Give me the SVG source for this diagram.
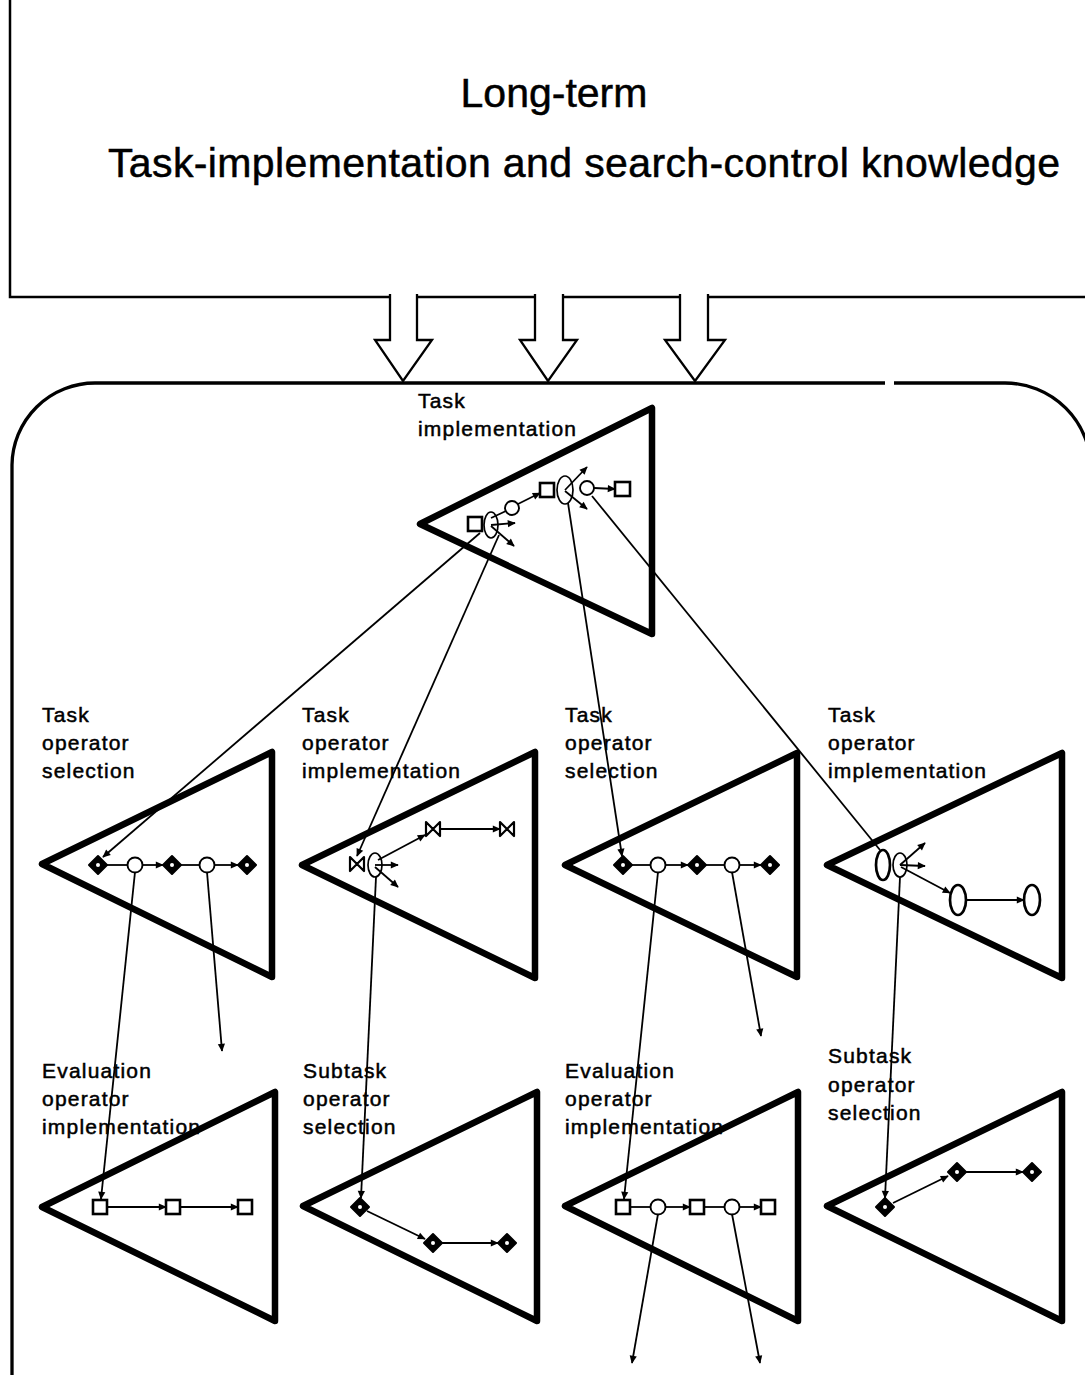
<svg xmlns="http://www.w3.org/2000/svg" xmlns:xlink="http://www.w3.org/1999/xlink" width="1085" height="1375" viewBox="0 0 1085 1375">
<style>
.big{font-family:"Liberation Sans",Arial,sans-serif;font-size:41px;fill:#000;stroke:#000;stroke-width:0.5}
.lbl{font-family:"Liberation Sans",Arial,sans-serif;font-size:21px;letter-spacing:1.2px;fill:#000;stroke:#000;stroke-width:0.5}
.tri{fill:none;stroke:#000;stroke-width:6.5;stroke-linejoin:round}
.ln{fill:none;stroke:#000;stroke-width:1.8}
.arr{fill:none;stroke:#000;stroke-width:1.8;marker-end:url(#ah)}
.sq{fill:#fff;stroke:#000;stroke-width:2.6}
.ci{fill:#fff;stroke:#000;stroke-width:1.9}
.el{fill:none;stroke:#000;stroke-width:1.7}
.elb{fill:#fff;stroke:#000;stroke-width:2.7}
.bt{fill:#fff;stroke:#000;stroke-width:2.2;stroke-linejoin:round}
.hollow{fill:#fff;stroke:#000;stroke-width:2.3;stroke-linejoin:miter}
</style>
<defs>
<marker id="ah" viewBox="0 0 10 10" refX="9" refY="5" markerWidth="10" markerHeight="8" markerUnits="userSpaceOnUse" orient="auto"><path d="M0,0.5 L10,5 L0,9.5 z" fill="#000"/></marker>
<g id="dia"><polygon points="-9,0 0,-9 9,0 0,9" fill="#000" stroke="#000" stroke-width="2" stroke-linejoin="round"/><circle r="2" fill="#fff"/></g>
<path id="bow" d="M-7,-7 L0,0 L-7,7 Z M7,-7 L0,0 L7,7 Z"/>
</defs>
<rect width="1085" height="1375" fill="#fff"/>

<g id="ltm">
<rect x="10" y="-5" width="1090" height="302" fill="#fff" stroke="#000" stroke-width="2.5"/>
<text class="big" x="554" y="107" text-anchor="middle">Long-term</text>
<text class="big" x="108" y="177" textLength="952" lengthAdjust="spacing">Task-implementation and search-control knowledge</text>
<polyline class="hollow" points="390,294 390,340 375,340 403,381 432,340 417,340 417,294"/>
<polyline class="hollow" points="535,294 535,340 520,340 548,381 577,340 563,340 563,294"/>
<polyline class="hollow" points="680,294 680,340 665,340 695,381 725,340 708,340 708,294"/>
</g>

<g id="workspace" fill="none" stroke="#000" stroke-width="3.3">
<path d="M12,1380 V465 A83,83 0 0 1 95,383 H885"/>
<path d="M894,383 H1005 A86,86 0 0 1 1091,469 V1380"/>
</g>

<g id="task-impl">
<text class="lbl" x="418" y="408">Task</text>
<text class="lbl" x="418" y="436">implementation</text>
<polygon class="tri" points="420,524 652,408 652,634"/>
<rect class="sq" x="468" y="517" width="14" height="14"/>
<ellipse class="el" cx="491" cy="525" rx="7" ry="13"/>
<line class="ln" x1="491" y1="518" x2="506" y2="511"/>
<circle class="ci" cx="512" cy="508" r="7"/>
<line class="arr" x1="491" y1="525" x2="515" y2="523"/>
<line class="arr" x1="491" y1="526" x2="514" y2="546"/>
<line class="arr" x1="518" y1="504" x2="540" y2="493"/>
<rect class="sq" x="540" y="483" width="14" height="14"/>
<ellipse class="el" cx="565" cy="490" rx="8" ry="14"/>
<circle class="ci" cx="587" cy="488" r="7"/>
<line class="arr" x1="565" y1="490" x2="587" y2="467"/>
<line class="arr" x1="565" y1="491" x2="587" y2="509"/>
<line class="arr" x1="594" y1="488" x2="615" y2="489"/>
<rect class="sq" x="615" y="482" width="15" height="14"/>
</g>

<g id="t1">
<text class="lbl" x="42" y="722">Task</text>
<text class="lbl" x="42" y="750">operator</text>
<text class="lbl" x="42" y="778">selection</text>
<polygon class="tri" points="42,864 272,752 272,977"/>
<line class="ln" x1="107" y1="865" x2="128" y2="865"/>
<line class="arr" x1="142" y1="865" x2="163" y2="865"/>
<line class="ln" x1="181" y1="865" x2="200" y2="865"/>
<line class="arr" x1="214" y1="865" x2="238" y2="865"/>
<use xlink:href="#dia" x="98" y="865"/>
<circle class="ci" cx="135" cy="865" r="7.5"/>
<use xlink:href="#dia" x="172" y="865"/>
<circle class="ci" cx="207" cy="865" r="7.5"/>
<use xlink:href="#dia" x="247" y="865"/>
</g>

<g id="t2">
<text class="lbl" x="302" y="722">Task</text>
<text class="lbl" x="302" y="750">operator</text>
<text class="lbl" x="302" y="778">implementation</text>
<polygon class="tri" points="302,865 535,752 535,978"/>
<use xlink:href="#bow" class="bt" x="357" y="864"/>
<ellipse class="el" cx="375" cy="865" rx="7" ry="12"/>
<line class="arr" x1="375" y1="865" x2="398" y2="865"/>
<line class="arr" x1="375" y1="867" x2="398" y2="887"/>
<line class="arr" x1="378" y1="860" x2="425" y2="835"/>
<use xlink:href="#bow" class="bt" x="433" y="829"/>
<line class="arr" x1="440" y1="829" x2="500" y2="829"/>
<use xlink:href="#bow" class="bt" x="507" y="829"/>
</g>

<g id="t3">
<text class="lbl" x="565" y="722">Task</text>
<text class="lbl" x="565" y="750">operator</text>
<text class="lbl" x="565" y="778">selection</text>
<polygon class="tri" points="565,865 797,753 797,977"/>
<line class="ln" x1="632" y1="865" x2="651" y2="865"/>
<line class="arr" x1="665" y1="865" x2="688" y2="865"/>
<line class="ln" x1="706" y1="865" x2="725" y2="865"/>
<line class="arr" x1="739" y1="865" x2="761" y2="865"/>
<use xlink:href="#dia" x="623" y="865"/>
<circle class="ci" cx="658" cy="865" r="7.5"/>
<use xlink:href="#dia" x="697" y="865"/>
<circle class="ci" cx="732" cy="865" r="7.5"/>
<use xlink:href="#dia" x="770" y="865"/>
</g>

<g id="t4">
<text class="lbl" x="828" y="722">Task</text>
<text class="lbl" x="828" y="750">operator</text>
<text class="lbl" x="828" y="778">implementation</text>
<polygon class="tri" points="827,865 1062,753 1062,978"/>
<ellipse class="elb" cx="883" cy="865" rx="7" ry="15"/>
<ellipse class="el" cx="900" cy="865" rx="7" ry="12"/>
<line class="arr" x1="900" y1="865" x2="925" y2="843"/>
<line class="arr" x1="900" y1="865" x2="925" y2="866"/>
<line class="arr" x1="901" y1="867" x2="950" y2="893"/>
<ellipse class="elb" cx="958" cy="900" rx="8" ry="15"/>
<line class="arr" x1="966" y1="900" x2="1024" y2="900"/>
<ellipse class="elb" cx="1032" cy="900" rx="8" ry="15"/>
</g>

<g id="t5">
<text class="lbl" x="42" y="1078">Evaluation</text>
<text class="lbl" x="42" y="1106">operator</text>
<text class="lbl" x="42" y="1134">implementation</text>
<polygon class="tri" points="42,1207 275,1092 275,1321"/>
<line class="arr" x1="107" y1="1207" x2="166" y2="1207"/>
<line class="arr" x1="180" y1="1207" x2="238" y2="1207"/>
<rect class="sq" x="93" y="1200" width="14" height="14"/>
<rect class="sq" x="166" y="1200" width="14" height="14"/>
<rect class="sq" x="238" y="1200" width="14" height="14"/>
</g>

<g id="t6">
<text class="lbl" x="303" y="1078">Subtask</text>
<text class="lbl" x="303" y="1106">operator</text>
<text class="lbl" x="303" y="1134">selection</text>
<polygon class="tri" points="303,1206 537,1092 537,1321"/>
<line class="arr" x1="367" y1="1211" x2="425" y2="1239"/>
<line class="arr" x1="442" y1="1243" x2="498" y2="1243"/>
<use xlink:href="#dia" x="360" y="1207"/>
<use xlink:href="#dia" x="433" y="1243"/>
<use xlink:href="#dia" x="507" y="1243"/>
</g>

<g id="t7">
<text class="lbl" x="565" y="1078">Evaluation</text>
<text class="lbl" x="565" y="1106">operator</text>
<text class="lbl" x="565" y="1134">implementation</text>
<polygon class="tri" points="565,1206 798,1092 798,1321"/>
<line class="ln" x1="630" y1="1207" x2="651" y2="1207"/>
<line class="arr" x1="665" y1="1207" x2="690" y2="1207"/>
<line class="ln" x1="704" y1="1207" x2="725" y2="1207"/>
<line class="arr" x1="739" y1="1207" x2="761" y2="1207"/>
<rect class="sq" x="616" y="1200" width="14" height="14"/>
<circle class="ci" cx="658" cy="1207" r="7.5"/>
<rect class="sq" x="690" y="1200" width="14" height="14"/>
<circle class="ci" cx="732" cy="1207" r="7.5"/>
<rect class="sq" x="761" y="1200" width="14" height="14"/>
</g>

<g id="t8">
<text class="lbl" x="828" y="1063">Subtask</text>
<text class="lbl" x="828" y="1092">operator</text>
<text class="lbl" x="828" y="1120">selection</text>
<polygon class="tri" points="827,1206 1062,1092 1062,1321"/>
<line class="arr" x1="893" y1="1203" x2="948" y2="1176"/>
<line class="arr" x1="966" y1="1172" x2="1023" y2="1172"/>
<use xlink:href="#dia" x="885" y="1207"/>
<use xlink:href="#dia" x="957" y="1172"/>
<use xlink:href="#dia" x="1032" y="1172"/>
</g>

<g id="connectors">
<line class="arr" x1="480" y1="533" x2="103" y2="857"/>
<line class="arr" x1="499" y1="535" x2="357" y2="856"/>
<line class="arr" x1="568" y1="503" x2="622" y2="856"/>
<line class="ln" x1="592" y1="496" x2="880" y2="850"/>
<line class="arr" x1="135" y1="872" x2="101" y2="1199"/>
<line class="arr" x1="207" y1="872" x2="222" y2="1051"/>
<line class="arr" x1="376" y1="877" x2="361" y2="1198"/>
<line class="arr" x1="658" y1="872" x2="624" y2="1199"/>
<line class="arr" x1="732" y1="872" x2="761" y2="1036"/>
<line class="arr" x1="900" y1="877" x2="885" y2="1198"/>
<line class="arr" x1="658" y1="1214" x2="632" y2="1363"/>
<line class="arr" x1="732" y1="1214" x2="760" y2="1363"/>
</g>
</svg>
